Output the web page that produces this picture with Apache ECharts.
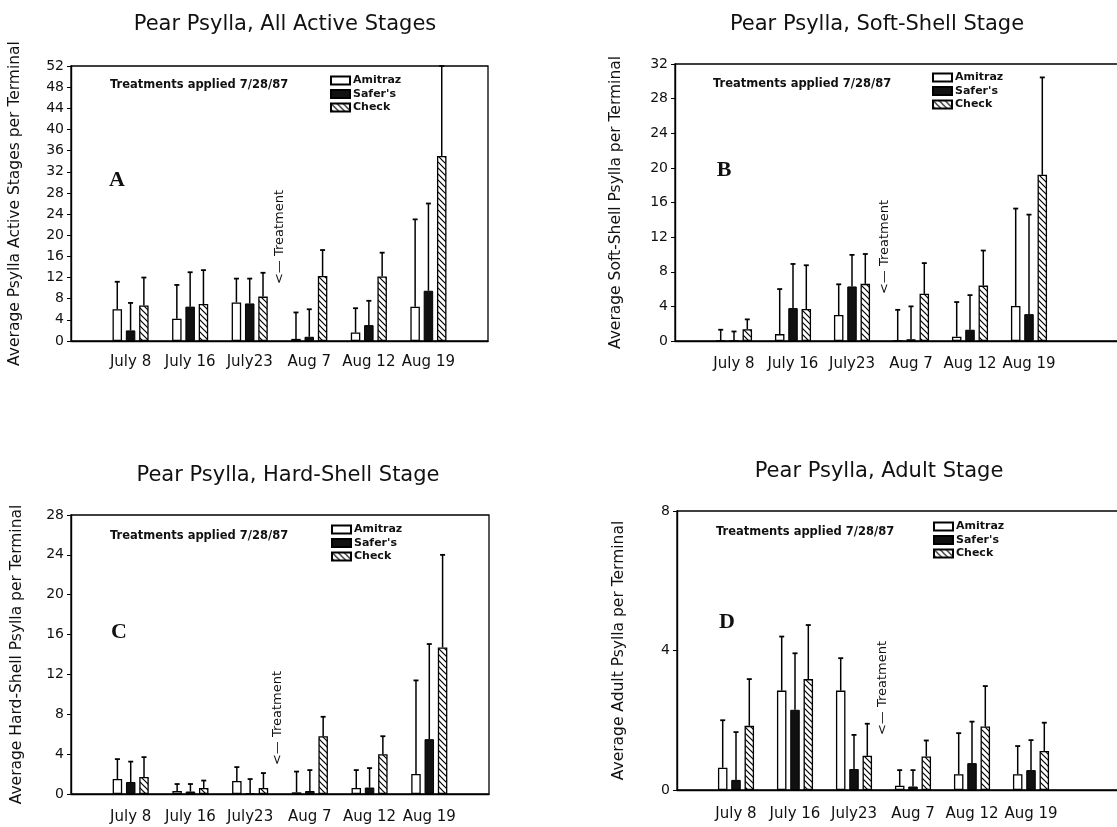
<!DOCTYPE html>
<html>
<head>
<meta charset="utf-8">
<script src="https://cdn.jsdelivr.net/npm/echarts@6/dist/echarts.min.js"></script>
<style>
  html, body { margin: 0; background: #fff; }
  #output { width: 1117px; height: 827px; }
</style>
</head>
<body>
<div id="output"></div>
<script>
const chart = echarts.init(document.getElementById('output'));

// first and last slots are empty padding on the axis
const categories = ['', 'July 8', 'July 16', 'July23', 'Aug 7', 'Aug 12', 'Aug 19', '']
// right-hand panels run off the page, so they get one more empty slot
const categoriesWide = categories.concat([''])
const treatments = ['Amitraz', "Safer's", 'Check']

// A - all active stages: bar height and top of error bar
const activeAmitraz = [6.0, 4.2, 7.3, 0.4, 1.6, 6.5]
const activeAmitrazTop = [11.2, 10.6, 11.8, 5.4, 6.2, 23.0]
const activeSafers = [2.0, 6.5, 7.1, 0.8, 3.0, 9.5]
const activeSafersTop = [7.2, 13.0, 11.8, 6.0, 7.6, 26.0]
const activeCheck = [6.7, 7.0, 8.4, 12.3, 12.2, 35.0]
const activeCheckTop = [12.0, 13.4, 12.9, 17.2, 16.7, 52.0]

// B - soft-shell stage
const softAmitraz = [0, 0.8, 3.0, 0, 0.5, 4.05]
const softAmitrazTop = [1.3, 6.0, 6.55, 3.6, 4.5, 15.3]
const softSafers = [0, 3.8, 6.3, 0.2, 1.3, 3.1]
const softSafersTop = [1.1, 8.9, 9.95, 4.0, 5.3, 14.6]
const softCheck = [1.35, 3.7, 6.6, 5.45, 6.4, 19.2]
const softCheckTop = [2.5, 8.75, 10.05, 9.0, 10.45, 30.45]

// C - hard-shell stage
const hardAmitraz = [1.5, 0.3, 1.3, 0.17, 0.6, 2.0]
const hardAmitrazTop = [3.5, 1.0, 2.7, 2.25, 2.4, 11.4]
const hardSafers = [1.2, 0.25, 0.07, 0.3, 0.65, 5.5]
const hardSafersTop = [3.25, 1.0, 1.5, 2.4, 2.6, 15.05]
const hardCheck = [1.7, 0.6, 0.6, 5.8, 4.0, 14.7]
const hardCheckTop = [3.7, 1.35, 2.1, 7.75, 5.8, 24.0]

// D - adult stage
const adultAmitraz = [0.64, 2.85, 2.85, 0.12, 0.45, 0.45]
const adultAmitrazTop = [2.0, 4.4, 3.78, 0.57, 1.63, 1.26]
const adultSafers = [0.29, 2.3, 0.6, 0.1, 0.77, 0.57]
const adultSafersTop = [1.66, 3.92, 1.58, 0.57, 1.96, 1.43]
const adultCheck = [1.84, 3.18, 0.98, 0.96, 1.82, 1.12]
const adultCheckTop = [3.18, 4.73, 1.9, 1.42, 2.98, 1.93]

const FONT = 'DejaVu Sans'
const BAR_W = 9.5
const STEP = 13.3

function hatch () {
  const c = document.createElement('canvas')
  c.width = 6
  c.height = 6
  const ctx = c.getContext('2d')
  ctx.fillStyle = '#fff'
  ctx.fillRect(0, 0, 6, 6)
  ctx.strokeStyle = '#000'
  ctx.lineWidth = 1.2
  ctx.beginPath()
  ctx.moveTo(-1, -1); ctx.lineTo(7, 7)
  ctx.moveTo(-1, 5); ctx.lineTo(1, 7)
  ctx.moveTo(5, -1); ctx.lineTo(7, 1)
  ctx.stroke()
  return c
}

const styles = [
  { color: '#fff', borderColor: '#000', borderWidth: 1.3 },
  { color: '#111', borderColor: '#000', borderWidth: 1 },
  { color: { image: hatch(), repeat: 'repeat' }, borderColor: '#000', borderWidth: 1.3 }
]

const panels = [
  {
    title: 'Pear Psylla, All Active Stages', titleX: 280, titleY: 9,
    yName: 'Average Psylla Active Stages per Terminal', nameGap: 48,
    max: 52, cats: categories, grid: { left: 71, top: 66, width: 417, height: 275 }, labelGap: 14,
    legend: [330, 75], note: [110, 85], letter: ['A', 117, 180], arrow: [280, 237],
    means: [activeAmitraz, activeSafers, activeCheck],
    tops: [activeAmitrazTop, activeSafersTop, activeCheckTop]
  },
  {
    title: 'Pear Psylla, Soft-Shell Stage', titleX: 872, titleY: 9,
    yName: 'Average Soft-Shell Psylla per Terminal', nameGap: 51,
    max: 32, cats: categoriesWide, grid: { left: 675, top: 64, width: 472, height: 277 }, labelGap: 16,
    legend: [932, 72], note: [713, 84], letter: ['B', 724, 170], arrow: [885, 247],
    means: [softAmitraz, softSafers, softCheck],
    tops: [softAmitrazTop, softSafersTop, softCheckTop]
  },
  {
    title: 'Pear Psylla, Hard-Shell Stage', titleX: 283, titleY: 460,
    yName: 'Average Hard-Shell Psylla per Terminal', nameGap: 46,
    max: 28, cats: categories, grid: { left: 71, top: 515, width: 418, height: 279 }, labelGap: 16,
    legend: [331, 524], note: [110, 536], letter: ['C', 119, 632], arrow: [278, 718],
    means: [hardAmitraz, hardSafers, hardCheck],
    tops: [hardAmitrazTop, hardSafersTop, hardCheckTop]
  },
  {
    title: 'Pear Psylla, Adult Stage', titleX: 874, titleY: 456,
    yName: 'Average Adult Psylla per Terminal', nameGap: 50,
    max: 8, cats: categoriesWide, grid: { left: 677, top: 511, width: 472, height: 279 }, labelGap: 17,
    legend: [933, 521], note: [716, 532], letter: ['D', 727, 622], arrow: [883, 688],
    means: [adultAmitraz, adultSafers, adultCheck],
    tops: [adultAmitrazTop, adultSafersTop, adultCheckTop]
  }
]

function errorSeries (gi, offset, means, tops) {
  return {
    type: 'custom',
    xAxisIndex: gi,
    yAxisIndex: gi,
    silent: true,
    z: 3,
    data: means.map((m, i) => [i + 1, m, tops[i]]),
    encode: { x: 0, y: [1, 2] },
    renderItem: (params, api) => {
      const base = api.coord([api.value(0), api.value(1)])
      const top = api.coord([api.value(0), api.value(2)])
      const x = base[0] + offset
      return {
        type: 'group',
        children: [
          { type: 'line', shape: { x1: x, y1: base[1], x2: x, y2: top[1] }, style: { stroke: '#000', lineWidth: 1.5 } },
          { type: 'line', shape: { x1: x - 2.5, y1: top[1], x2: x + 2.5, y2: top[1] }, style: { stroke: '#000', lineWidth: 1.8 } }
        ]
      }
    }
  }
}

const option = {
  backgroundColor: '#fff',
  animation: false,
  title: [],
  grid: [],
  xAxis: [],
  yAxis: [],
  legend: [],
  series: [],
  graphic: []
}

panels.forEach((p, gi) => {
  option.title.push({
    text: p.title, left: p.titleX, top: p.titleY, textAlign: 'center',
    textStyle: { fontFamily: FONT, fontSize: 21, fontWeight: 'normal', color: '#111' }
  })
  // the right-hand grids are allowed to run past the page edge
  option.grid.push(Object.assign({
    show: true, borderColor: '#000', borderWidth: 1.3, backgroundColor: 'transparent',
    containLabel: false, outerBoundsMode: 'none'
  }, p.grid))
  option.xAxis.push({
    type: 'category', gridIndex: gi, data: p.cats, boundaryGap: false,
    axisLine: { lineStyle: { color: '#000', width: 1.4 } },
    axisTick: { show: false },
    axisLabel: { interval: 0, margin: p.labelGap, color: '#111', fontFamily: FONT, fontSize: 15 },
    splitLine: { show: false }
  })
  option.yAxis.push({
    type: 'value', gridIndex: gi, min: 0, max: p.max, interval: 4,
    name: p.yName, nameLocation: 'middle', nameGap: p.nameGap,
    nameTextStyle: { fontFamily: FONT, fontSize: 15.5, color: '#111' },
    axisLine: { show: true, lineStyle: { color: '#000', width: 1.4 } },
    axisTick: { show: true, length: 4, lineStyle: { color: '#000' } },
    axisLabel: { margin: 7, color: '#111', fontFamily: FONT, fontSize: 14 },
    splitLine: { show: false }
  })
  option.legend.push({
    orient: 'vertical', left: p.legend[0], top: p.legend[1], padding: 0,
    itemWidth: 19, itemHeight: 8, itemGap: 2.5, icon: 'rect',
    data: treatments,
    textStyle: { fontFamily: FONT, fontSize: 11, fontWeight: 'bold', color: '#111', padding: [0, 0, 0, -2] }
  })
  treatments.forEach((name, k) => {
    option.series.push({
      name, type: 'bar', xAxisIndex: gi, yAxisIndex: gi,
      barWidth: BAR_W, barGap: '40%',
      itemStyle: styles[k],
      data: p.means[k].map((m, i) => [i + 1, m])
    })
  })
  treatments.forEach((name, k) => {
    option.series.push(errorSeries(gi, (k - 1) * STEP, p.means[k], p.tops[k]))
  })
  option.graphic.push(
    {
      type: 'text', x: p.note[0], y: p.note[1],
      style: { text: 'Treatments applied 7/28/87', fontFamily: FONT, fontSize: 11.5, fontWeight: 'bold', fill: '#111', textVerticalAlign: 'middle' }
    },
    {
      type: 'text', x: p.letter[1], y: p.letter[2],
      style: { text: p.letter[0], fontFamily: 'Liberation Serif', fontSize: 22, fontWeight: 'bold', fill: '#111', textAlign: 'center', textVerticalAlign: 'middle' }
    },
    {
      type: 'text', x: p.arrow[0], y: p.arrow[1], rotation: Math.PI / 2,
      style: { text: '<\u2014 Treatment', fontFamily: FONT, fontSize: 13, fill: '#111', textAlign: 'center', textVerticalAlign: 'middle' }
    }
  )
})

chart.setOption(option)
</script>
</body>
</html>
